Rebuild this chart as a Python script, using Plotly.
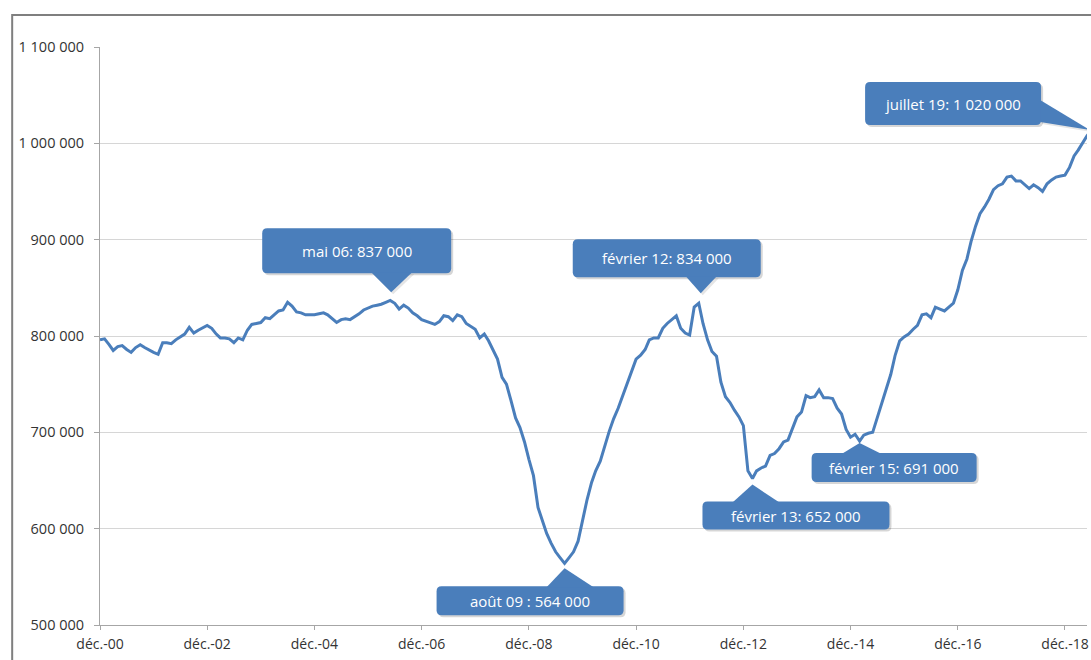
import plotly.graph_objects as go
import pandas as pd

# ---------------- data (thousands of jobs, monthly from Dec 2000 to Jul 2019) -------------
start_month = "2000-12-01"
values_k = [
    796, 797, 791, 785, 789, 790, 786, 783, 788, 791, 788, 785,   # 0-11
    783, 781, 793, 793, 792, 796, 799, 802, 809, 803, 806, 809,   # 12-23
    811, 808, 802, 798, 798, 797, 793, 798, 796, 806, 812, 813,   # 24-35
    814, 819, 818, 822, 826, 827, 835, 831, 825, 824, 822, 822,   # 36-47
    822, 823, 824, 822, 818, 814, 817, 818, 817, 820, 823, 827,   # 48-59
    829, 831, 832, 833, 835, 837, 834, 828, 832, 829, 824, 821,   # 60-71
    817, 815, 813, 812, 815, 821, 820, 816, 822, 820, 813, 810,   # 72-83
    807, 798, 802, 795, 785, 776, 757, 750, 733, 715, 705, 690,   # 84-95
    672, 655, 622, 609, 595, 585, 576, 570, 564, 570, 576, 587,   # 96-107
    608, 630, 648, 660, 670, 686, 701, 714, 725, 738, 750, 762,   # 108-119
    776, 780, 786, 796, 798, 798, 808, 813, 817, 821, 808, 803,   # 120-131
    801, 830, 834, 813, 796, 784, 779, 752, 737, 731, 723, 716,   # 132-143
    707, 660, 652, 660, 663, 665, 676, 678, 683, 690, 692, 705,   # 144-155
    716, 721, 738, 736, 737, 744, 736, 736, 735, 725, 719, 703,   # 156-167
    695, 698, 691, 697, 699, 700, 715, 730, 745, 760, 780, 795,   # 168-179
    799, 802, 807, 811, 822, 823, 819, 830, 828, 826, 830, 834,   # 180-191
    848, 868, 880, 898, 914, 927, 934, 942, 952, 956, 958, 965,   # 192-203
    966, 961, 961, 957, 953, 957, 954, 950, 958, 962, 965, 966,   # 204-215
    967, 975, 987, 993, 1001, 1008, 1014, 1020,                   # 216-223
]
dates = pd.date_range(start_month, periods=len(values_k), freq="MS")
values = [v * 1000 for v in values_k]

tick_dates = ["2000-12-01", "2002-12-01", "2004-12-01", "2006-12-01", "2008-12-01",
              "2010-12-01", "2012-12-01", "2014-12-01", "2016-12-01", "2018-12-01"]
tick_labels = ["déc.-00", "déc.-02", "déc.-04", "déc.-06", "déc.-08",
               "déc.-10", "déc.-12", "déc.-14", "déc.-16", "déc.-18"]
y_ticks = [500000, 600000, 700000, 800000, 900000, 1000000, 1100000]

callout_dates = ["2006-05-01", "2012-02-01", "2019-07-01", "2009-08-01", "2013-02-01", "2015-02-01"]
callout_names = ["mai 06", "février 12", "juillet 19", "août 09 ", "février 13", "février 15"]

# ---------------- style / layout geometry ----------------
W, H = 1091, 660
L, R, T, B = 100, 1089, 47, 625
BLUE = "#4A7EBB"
X_RANGE = ["2000-12-01", "2019-04-30"]

# callout geometry in pixels relative to the data point (x right, y up)
geoms = [
    dict(box=(-128, 61, 27, 72), ptr=("bottom", -19, 22, 27), tip=(1, 8)),
    dict(box=(-126, 62, 26, 64), ptr=("bottom", -13, 18, 26), tip=(2, 10)),
    dict(box=(-231, -55, -1, 42), ptr=("right", 2, 24, -55), tip=(-6, -6)),
    dict(box=(-128, 59, -52, -23), ptr=("top", -18, 29, -23), tip=(0, -5)),
    dict(box=(-50, 137, -51, -23), ptr=("top", -20, 27, -23), tip=(0, -6)),
    dict(box=(-48, 117, -41, -12), ptr=("top", -18, 22, -12), tip=(0, -2)),
]


def fmt_num(v):
    return f"{int(round(v)):,}".replace(",", " ")


def rrect(l, r, b, t, rad=5, dx=0, dy=0):
    l, r, b, t = l + dx, r + dx, b + dy, t + dy
    return (f"M {l+rad},{b} L {r-rad},{b} Q {r},{b} {r},{b+rad} L {r},{t-rad} "
            f"Q {r},{t} {r-rad},{t} L {l+rad},{t} Q {l},{t} {l},{t-rad} "
            f"L {l},{b+rad} Q {l},{b} {l+rad},{b} Z")


def pointer(ptr, tip, dx=0, dy=0):
    side, a0, a1, edge = ptr
    tx, ty = tip[0] + dx, tip[1] + dy
    if side == "bottom":
        e = edge + 1
        pts = [(a0, e), (a1, e)]
    elif side == "top":
        e = edge - 1
        pts = [(a0, e), (a1, e)]
    else:  # right edge: a0..a1 are y values
        e = edge - 1
        pts = [(e, a0), (e, a1)]
    pts = [(x + dx, y + dy) for x, y in pts]
    return f"M {pts[0][0]},{pts[0][1]} L {pts[1][0]},{pts[1][1]} L {tx},{ty} Z"


r0, r1 = pd.Timestamp(X_RANGE[0]), pd.Timestamp(X_RANGE[1])


def to_paper_x(d):
    return (pd.Timestamp(d) - r0) / (r1 - r0)


fig = go.Figure()
fig.add_trace(go.Scatter(
    x=dates, y=values, mode="lines",
    line=dict(color=BLUE, width=3), hoverinfo="skip", showlegend=False,
))

shapes = []
annotations = []
value_by_date = dict(zip(dates.strftime("%Y-%m-%d"), values))
for d, name, g in zip(callout_dates, callout_names, geoms):
    val = value_by_date[d]
    l, r, b, t = g["box"]
    common = dict(type="path", xref="x", yref="y", xsizemode="pixel", ysizemode="pixel",
                  xanchor=d, yanchor=val, layer="above", line=dict(width=0))
    # shadow
    shapes.append(dict(path=rrect(l, r, b, t, dx=2, dy=-2), fillcolor="rgba(0,0,0,0.16)", **common))
    shapes.append(dict(path=pointer(g["ptr"], g["tip"], dx=2, dy=-2), fillcolor="rgba(0,0,0,0.10)", **common))
    # box and pointer
    shapes.append(dict(path=rrect(l, r, b, t), fillcolor=BLUE, **common))
    shapes.append(dict(path=pointer(g["ptr"], g["tip"]), fillcolor=BLUE, **common))
    annotations.append(dict(
        x=to_paper_x(d), y=val, xref="paper", yref="y", showarrow=False,
        text=f"{name}: {fmt_num(val)}",
        xshift=(l + r) / 2, yshift=(b + t) / 2,
        xanchor="center", yanchor="middle",
        font=dict(family="Open Sans", size=15, color="white"),
    ))

# outer chart frame (cropped on the right and bottom)
pw, ph = R - L, B - T
shapes.append(dict(
    type="rect", xref="paper", yref="paper", layer="below",
    x0=(12 - L) / pw, x1=(1110 - L) / pw,
    y0=(B - 680) / ph, y1=(B - 15) / ph,
    line=dict(color="#7F7F7F", width=2), fillcolor="rgba(0,0,0,0)",
))

fig.update_layout(
    width=W, height=H,
    margin=dict(l=L, r=W - R, t=T, b=H - B, pad=0),
    paper_bgcolor="white", plot_bgcolor="white",
    separators=", ",
    font=dict(family="Open Sans", size=14, color="#333333"),
    shapes=shapes, annotations=annotations,
    showlegend=False,
    xaxis=dict(
        type="date",
        range=X_RANGE,
        tickmode="array", tickvals=tick_dates, ticktext=tick_labels,
        showgrid=False, showline=True, linecolor="#A6A6A6", linewidth=1,
        ticks="outside", ticklen=4, tickcolor="#A6A6A6",
        ticklabelstandoff=2,
        tickfont=dict(family="Open Sans", size=14, color="#333333"),
        zeroline=False,
    ),
    yaxis=dict(
        range=[500000, 1100000],
        tickmode="array", tickvals=y_ticks,
        ticktext=[fmt_num(v) for v in y_ticks],
        showgrid=True, gridcolor="#D6D6D6", gridwidth=1,
        showline=True, linecolor="#A6A6A6", linewidth=1,
        ticks="outside", ticklen=5, tickcolor="#A6A6A6",
        ticklabelstandoff=7,
        tickfont=dict(family="Open Sans", size=14.5, color="#333333"),
        zeroline=False,
    ),
)

fig.write_html("out.html")
